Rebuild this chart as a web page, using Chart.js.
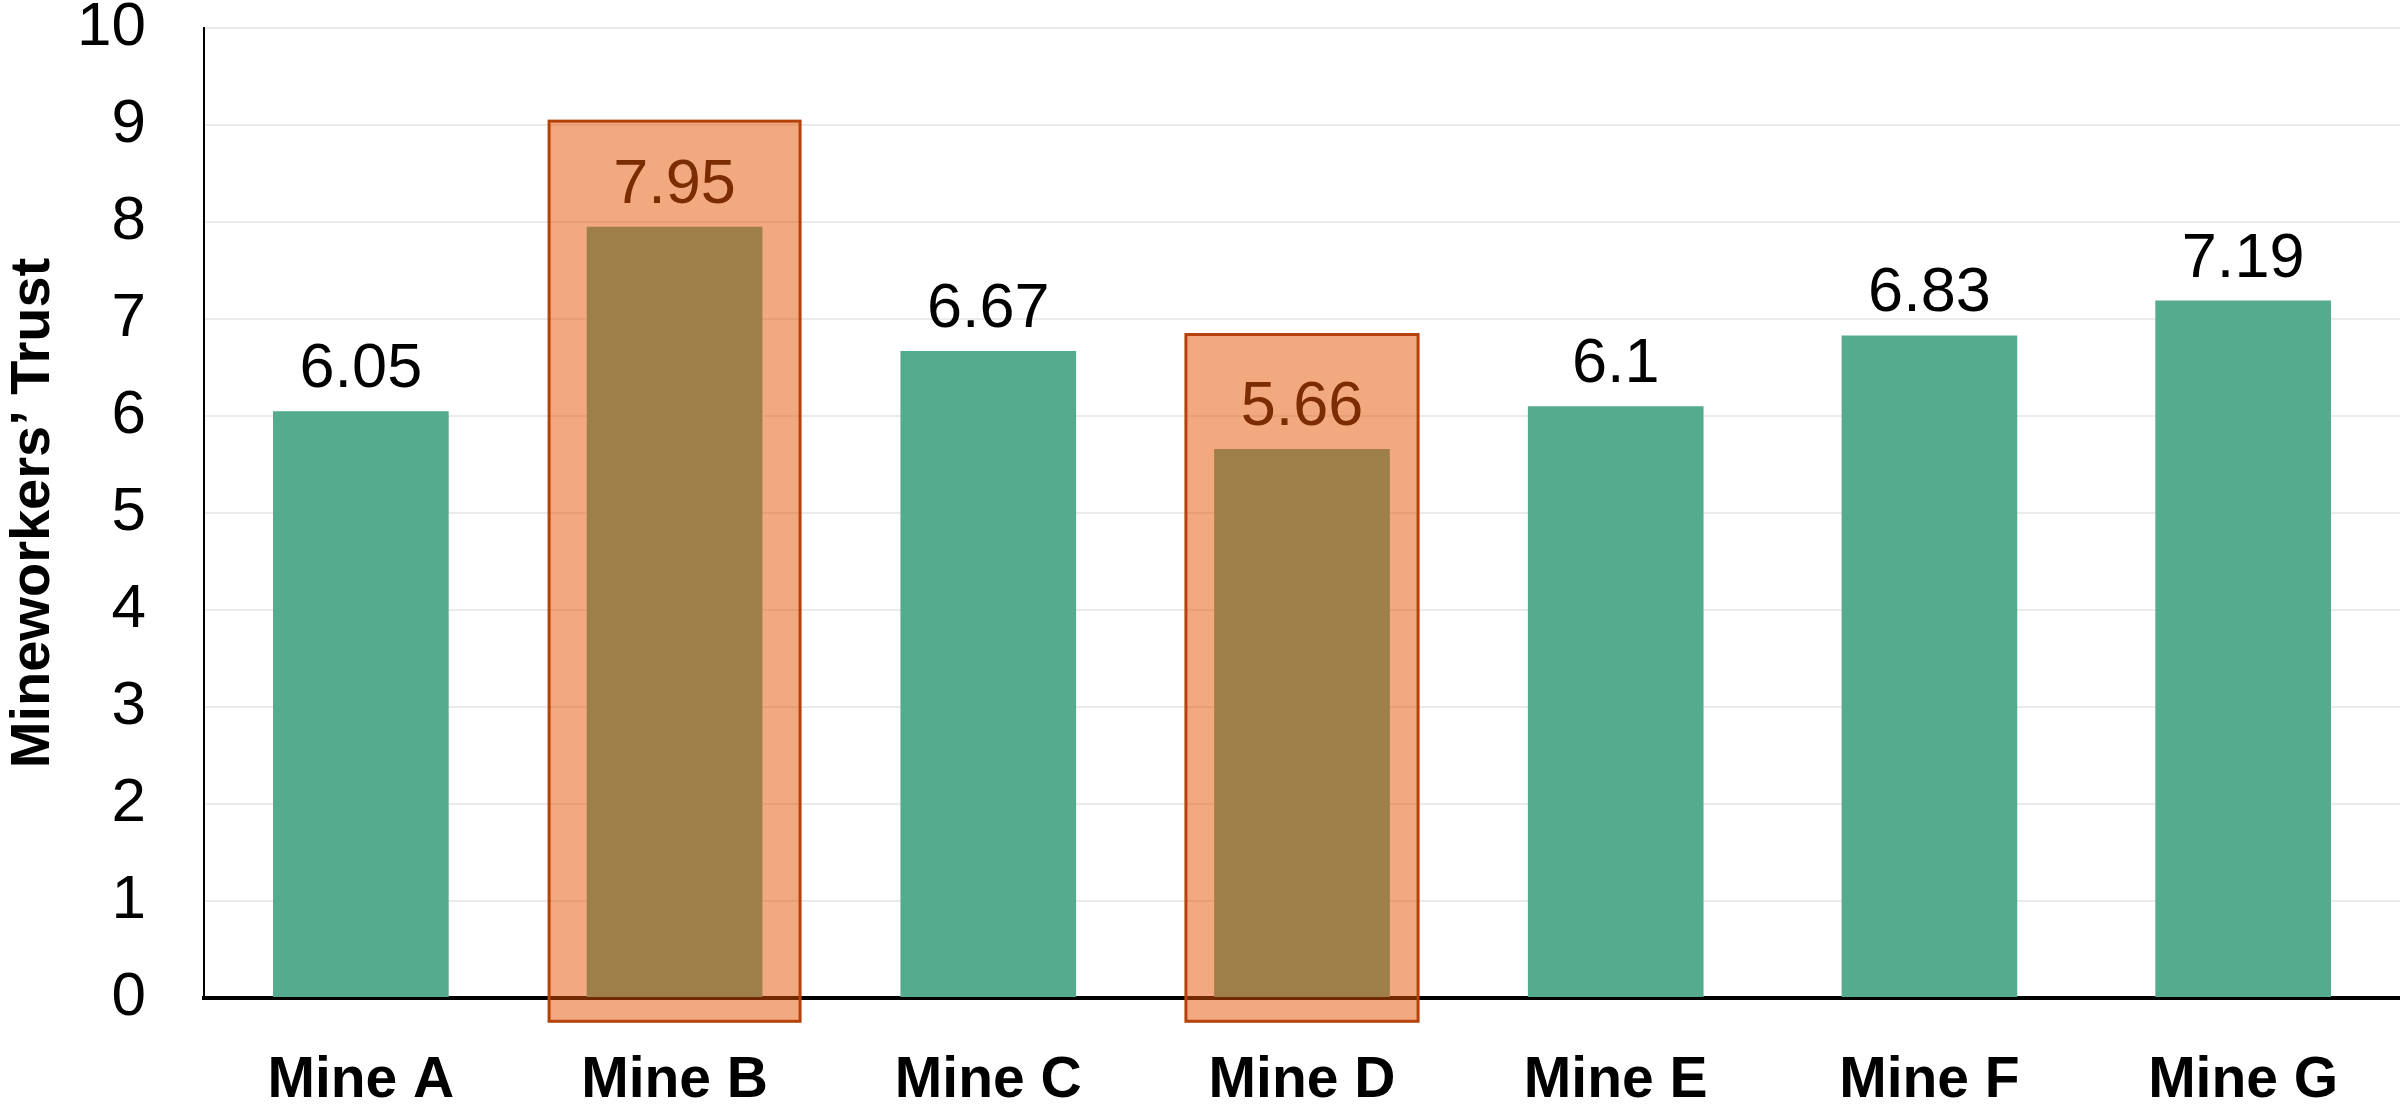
<!DOCTYPE html>
<html>
<head>
<meta charset="utf-8">
<script src="https://cdn.jsdelivr.net/npm/chart.js@4.4.1/dist/chart.umd.min.js"></script>
<style>
html, body { margin: 0; padding: 0; background: #fff; }
#wrap { width: 2400px; height: 1106px; }
</style>
</head>
<body>
<div id="wrap"><canvas id="myChart" width="2400" height="1106"></canvas></div>
<script>
var categorias = ['Mine A', 'Mine B', 'Mine C', 'Mine D', 'Mine E', 'Mine F', 'Mine G'];
var valores = [6.05, 7.95, 6.67, 5.66, 6.1, 6.83, 7.19];
var etiquetas = ['6.05', '7.95', '6.67', '5.66', '6.1', '6.83', '7.19'];
var ticksY = [0, 1, 2, 3, 4, 5, 6, 7, 8, 9, 10];
var destacados = [1, 3]; // Mine B y Mine D

// ancho de la caja (fraccion de la categoria) y margen arriba del valor
var estiloCaja = {
    1: { ancho: 0.80, arriba: 1.09 },
    3: { ancho: 0.74, arriba: 1.18 }
};

var fuente = '"Liberation Sans", Arial, sans-serif';

var cajasPlugin = {
    id: 'cajas',
    afterDatasetsDraw: function(chart) {
        var ctx = chart.ctx;
        var x = chart.scales.x;
        var y = chart.scales.y;
        var meta = chart.getDatasetMeta(0);
        var anchoCat = (x.right - x.left) / categorias.length;
        ctx.save();
        destacados.forEach(function(i) {
            var cx = x.getPixelForValue(i);
            var w = anchoCat * estiloCaja[i].ancho;
            var arriba = y.getPixelForValue(valores[i] + estiloCaja[i].arriba);
            var abajo = y.getPixelForValue(-0.24);
            ctx.fillStyle = 'rgba(229, 83, 0, 0.5)';
            ctx.fillRect(cx - w / 2, arriba, w, abajo - arriba);
            ctx.strokeStyle = '#B5420A';
            ctx.lineWidth = 3;
            ctx.strokeRect(cx - w / 2, arriba, w, abajo - arriba);
        });
        // etiquetas de valores
        ctx.font = '63px ' + fuente;
        ctx.textAlign = 'center';
        ctx.textBaseline = 'alphabetic';
        meta.data.forEach(function(bar, i) {
            ctx.fillStyle = destacados.indexOf(i) >= 0 ? '#7B2C00' : '#000000';
            ctx.fillText(etiquetas[i], bar.x, bar.y - 24);
        });
        ctx.restore();
    }
};

var ctx = document.getElementById('myChart').getContext('2d');
var chart = new Chart(ctx, {
    type: 'bar',
    data: {
        labels: categorias,
        datasets: [{
            data: valores,
            backgroundColor: '#55AB8E',
            borderWidth: 0,
            barPercentage: 0.56,
            categoryPercentage: 1.0
        }]
    },
    options: {
        responsive: false,
        animation: false,
        devicePixelRatio: 1,
        layout: { padding: 0 },
        plugins: {
            legend: { display: false },
            tooltip: { enabled: false }
        },
        scales: {
            x: {
                grid: { display: false, drawTicks: false },
                border: { display: true, color: '#000000', width: 4 },
                ticks: {
                    color: '#000000',
                    padding: 49,
                    font: { family: fuente, size: 57, weight: 'bold' }
                },
                afterFit: function(s) { s.height = 108; }
            },
            y: {
                min: 0,
                max: 10,
                afterBuildTicks: function(s) {
                    s.ticks = ticksY.map(function(v) { return { value: v }; });
                },
                grid: { color: '#EBEBEB', lineWidth: 2, drawTicks: false },
                border: { display: true, color: '#000000', width: 2 },
                ticks: {
                    color: '#000000',
                    padding: 58,
                    font: { family: fuente, size: 62 }
                },
                title: {
                    display: true,
                    text: 'Mineworkers\u2019 Trust',
                    color: '#000000',
                    padding: 0,
                    font: { family: fuente, size: 56, weight: 'bold' }
                },
                afterFit: function(s) {
                    s.width = 204;
                    s.paddingTop = 28;
                    s.paddingBottom = 0;
                }
            }
        }
    },
    plugins: [cajasPlugin]
});
</script>
</body>
</html>
